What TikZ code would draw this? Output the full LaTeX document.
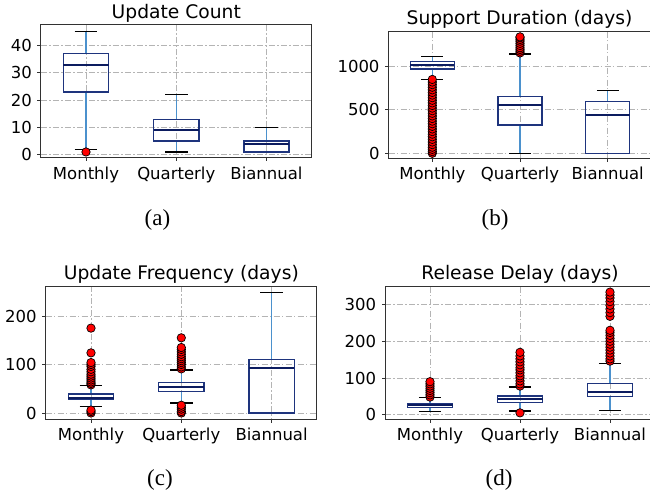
\documentclass[tikz,border=0pt]{standalone}
\usepackage{fontspec}
\setmainfont{DejaVu Sans}
\newfontfamily\capfont{Liberation Serif}
\definecolor{boxc}{RGB}{30,52,125}
\definecolor{medc}{RGB}{12,28,95}
\definecolor{whc}{RGB}{75,145,205}
\definecolor{gridc}{RGB}{180,180,180}
\definecolor{framec}{RGB}{50,50,50}
\tikzset{
 gridl/.style={gridc, line width=0.8pt, dash pattern=on 6pt off 2.4pt on 1.2pt off 2.4pt},
 framel/.style={framec, line width=1pt},
 tickl/.style={framec, line width=0.9pt},
 whisk/.style={whc, line width=1.3pt},
 capl/.style={black, line width=1.2pt},
 boxl/.style={boxc, line width=1.3pt},
 medl/.style={medc, line width=2pt},
 flier/.style={fill=red, draw=black, line width=0.7pt},
 ticklab/.style={inner sep=0pt, font=\fontsize{16.5}{18}\selectfont},
 titl/.style={inner sep=0pt, anchor=base, font=\fontsize{18.7}{20}\selectfont},
 subcap/.style={inner sep=0pt, font=\capfont\fontsize{23}{25}\selectfont},
}
\newcommand{\bxp}[7]{%
 \draw[whisk] (#1,#2) -- (#1,#3) (#1,#5) -- (#1,#6);
 \draw[capl] (#1-#7/2,#2) -- (#1+#7/2,#2) (#1-#7/2,#6) -- (#1+#7/2,#6);
 \draw[boxl] (#1-#7,#3) rectangle (#1+#7,#5);
 \draw[medl] (#1-#7,#4) -- (#1+#7,#4);
}
\newcommand{\flr}[2]{\foreach \vv in {#2} \draw[flier] (#1,\vv) circle[radius=4.2pt];}
\begin{document}
\begin{tikzpicture}[x=1pt,y=-1pt]
\useasboundingbox (0,0) rectangle (650,497);
\fill[white] (0,0) rectangle (650,497);

% ---------------- (a) ----------------
\foreach \xx in {86,176.3,266.5} {
  \draw[gridl] (\xx,25) -- (\xx,158);
  \draw[tickl] (\xx,158) -- (\xx,161.5);
}
\begin{scope}[shift={(0,154.7)}, y=2.73pt]
 \foreach \vv in {0,10,20,30,40} {
   \draw[gridl] (40.9,\vv) -- (311.6,\vv);
   \draw[tickl] (40.9,\vv) -- (37.4,\vv);
   \node[ticklab, anchor=east] (ay\vv) at (32.1,\vv) {\vv};
 }
 \bxp{86}{2}{23}{33}{37}{45}{22.6}
 \bxp{176.3}{1}{5}{9}{13}{22}{22.6}
 \bxp{266.5}{1}{1}{4}{5}{10}{22.6}
 \flr{86}{1}
\end{scope}
\draw[framel] (40.9,25) rectangle (311.6,158);
\node[titl] (ta) at (176.3,19) {Update Count};
\node[ticklab, anchor=base] (ax1) at (86,179) {Monthly};
\node[ticklab, anchor=base] (ax2) at (176.3,179) {Quarterly};
\node[ticklab, anchor=base] (ax3) at (266.5,179) {Biannual};
\node[subcap] (capa) at (157.5,220) {(a)};

% ---------------- (b) ----------------
\foreach \xx in {432.3,520,607.7} {
  \draw[gridl] (\xx,31.7) -- (\xx,159);
  \draw[tickl] (\xx,159) -- (\xx,162.5);
}
\begin{scope}[shift={(0,153.3)}, y=0.0869pt]
 \foreach \vv in {0,500,1000} {
   \draw[gridl] (388.5,\vv) -- (651.5,\vv);
   \draw[tickl] (388.5,\vv) -- (385,\vv);
   \node[ticklab, anchor=east] (by\vv) at (379.7,\vv) {\vv};
 }
 \bxp{432.3}{853}{970}{1020}{1056}{1113}{21.9}
 \bxp{520}{0}{327}{557}{653}{1142}{21.9}
 \bxp{607.7}{0}{0}{442}{596}{722}{21.9}
 \flr{432.3}{0,20,45,70,100,130,160,190,220,250,280,310,340,370,400,430,460,490,520,550,580,610,640,670,700,730,760,790,820,850}
 \flr{520}{1155,1175,1195,1215,1240,1265,1290,1310,1330,1340}
\end{scope}
\draw[framel] (388.5,159) -- (388.5,31.7) -- (651.5,31.7) -- (651.5,159) -- cycle;
\node[titl] (tb) at (519.5,24.5) {Support Duration (days)};
\node[ticklab, anchor=base] (bx1) at (432.3,180) {Monthly};
\node[ticklab, anchor=base] (bx2) at (520,180) {Quarterly};
\node[ticklab, anchor=base] (bx3) at (607.7,180) {Biannual};
\node[subcap] (capb) at (495,220) {(b)};

% ---------------- (c) ----------------
\foreach \xx in {91,181.3,271.6} {
  \draw[gridl] (\xx,286) -- (\xx,419);
  \draw[tickl] (\xx,419) -- (\xx,422.5);
}
\begin{scope}[shift={(0,413)}, y=0.485pt]
 \foreach \vv in {0,100,200} {
   \draw[gridl] (45.7,\vv) -- (316.7,\vv);
   \draw[tickl] (45.7,\vv) -- (42.2,\vv);
   \node[ticklab, anchor=east] (cy\vv) at (36.9,\vv) {\vv};
 }
 \bxp{91}{13}{28}{30}{39}{56}{22.6}
 \bxp{181.3}{20.6}{45}{54}{62.5}{88.7}{22.6}
 \bxp{271.6}{0}{0}{92}{110.7}{248}{22.6}
 \flr{91}{0,3,6,58,61,64,68,72,76,80,85,90,96,100,104,124,175}
 \flr{181.3}{0,3,8,12,16,91,95,100,104,108,112,116,121,126,131,135,155}
\end{scope}
\draw[framel] (45.7,286) rectangle (316.7,419);
\node[titl] (tc) at (181.3,279.3) {Update Frequency (days)};
\node[ticklab, anchor=base] (cx1) at (91,440) {Monthly};
\node[ticklab, anchor=base] (cx2) at (181.3,440) {Quarterly};
\node[ticklab, anchor=base] (cx3) at (271.6,440) {Biannual};
\node[subcap] (capc) at (160,480) {(c)};

% ---------------- (d) ----------------
\foreach \xx in {430,520,610} {
  \draw[gridl] (\xx,286.7) -- (\xx,419);
  \draw[tickl] (\xx,419) -- (\xx,422.5);
}
\begin{scope}[shift={(0,414.7)}, y=0.367pt]
 \foreach \vv in {0,100,200,300} {
   \draw[gridl] (385,\vv) -- (655,\vv);
   \draw[tickl] (385,\vv) -- (381.5,\vv);
   \node[ticklab, anchor=east] (dy\vv) at (376.2,\vv) {\vv};
 }
 \bxp{430}{8}{20}{25.6}{30}{46}{22.5}
 \bxp{520}{10}{34}{42}{51}{75.5}{22.5}
 \bxp{610}{12}{49}{62.7}{85.5}{140}{22.5}
 \flr{430}{48,54,60,66,72,78,84,90}
 \flr{520}{5,78,84,92,100,106,114,122,128,136,144,152,160,170}
 \flr{610}{146,152,160,168,176,184,192,200,208,216,224,230,268,278,288,298,308,318,326,334}
\end{scope}
\draw[framel] (385,419) -- (385,286.7) -- (655,286.7) -- (655,419) -- cycle;
\node[titl] (td) at (520,279.3) {Release Delay (days)};
\node[ticklab, anchor=base] (dx1) at (430,440) {Monthly};
\node[ticklab, anchor=base] (dx2) at (520,440) {Quarterly};
\node[ticklab, anchor=base] (dx3) at (610,440) {Biannual};
\node[subcap] (capd) at (499,480) {(d)};
\end{tikzpicture}
\end{document}
